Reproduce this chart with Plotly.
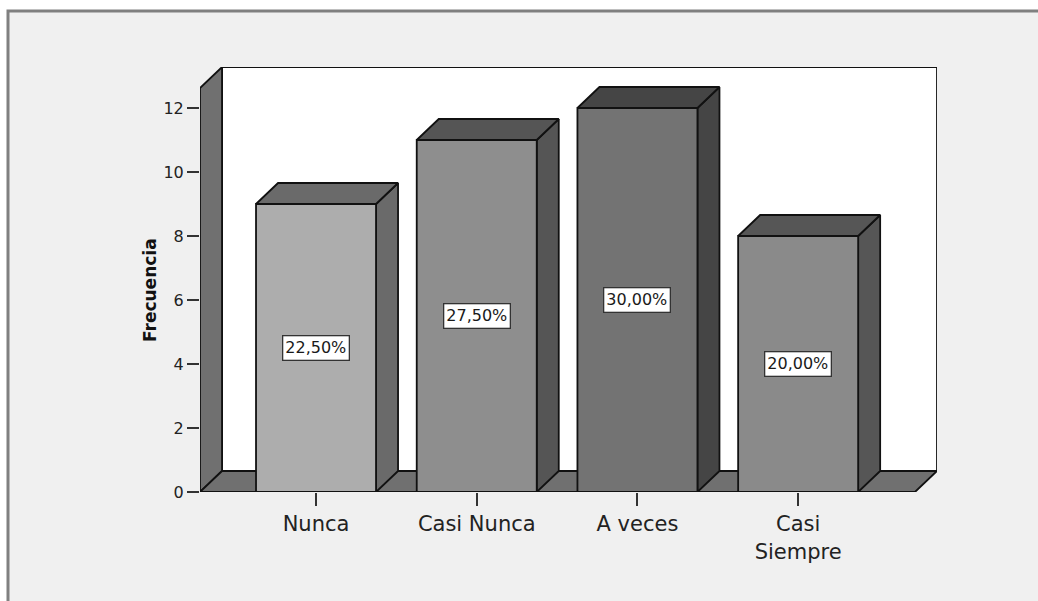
import plotly.graph_objects as go

# Frequency table
categorias = ["Nunca", "Casi Nunca", "A veces", "Casi<br>Siempre"]
frecuencias = [9, 11, 12, 8]
porcentajes = ["22,50%", "27,50%", "30,00%", "20,00%"]

# Face colours per bar: front face and the darker top/side faces
color_frente = ["#adadad", "#8e8e8e", "#737373", "#8a8a8a"]
color_lado = ["#6a6a6a", "#555555", "#454545", "#565656"]

y_ticks = [0, 2, 4, 6, 8, 10, 12]

# Geometry of the pseudo-3D box (axis units)
W, H = 1038, 601
ML, MR, MT, MB = 200, 101, 67, 109
pw, ph = W - ML - MR, H - MT - MB
half = 0.3734          # half bar width
dx, dy = 0.137, 0.656  # depth offset of the back plane
x_lo, x_hi = -0.722, 3.727
wall_top = 12.625
x_range = [x_lo, x_hi + dx]
y_range = [0, wall_top + dy]

EDGE = dict(color="#111111", width=1.8)

fig = go.Figure()


def face(xs, ys, fill):
    fig.add_trace(go.Scatter(
        x=list(xs) + [xs[0]], y=list(ys) + [ys[0]],
        mode="lines", fill="toself", fillcolor=fill,
        line=EDGE, hoverinfo="skip", showlegend=False,
    ))


# Back wall
face([x_lo + dx, x_hi + dx, x_hi + dx, x_lo + dx],
     [dy, dy, wall_top + dy, wall_top + dy], "#ffffff")
# Left wall
face([x_lo, x_lo + dx, x_lo + dx, x_lo],
     [0, dy, wall_top + dy, wall_top], "#707070")
# Floor
face([x_lo, x_hi, x_hi + dx, x_lo + dx],
     [0, 0, dy, dy], "#707070")

# Bars: side face, top face, front face
for i, v in enumerate(frecuencias):
    x0, x1 = i - half, i + half
    face([x1, x1 + dx, x1 + dx, x1], [0, dy, v + dy, v], color_lado[i])
    face([x0, x1, x1 + dx, x0 + dx], [v, v, v + dy, v + dy], color_lado[i])
    face([x0, x1, x1, x0], [0, 0, v, v], color_frente[i])

# Percentage labels in the middle of each bar
for i, (v, p) in enumerate(zip(frecuencias, porcentajes)):
    fig.add_annotation(
        x=i, y=v / 2, text=p, showarrow=False,
        font=dict(family="DejaVu Sans", size=16, color="#1a1a1a"),
        bgcolor="#ffffff", bordercolor="#333333", borderwidth=1.3, borderpad=2,
    )

# Y-axis title
fig.add_annotation(
    xref="paper", yref="paper",
    x=(138 - ML) / pw, y=(H - MB - 290) / ph,
    text="<b>Frecuencia</b>", textangle=-90, showarrow=False,
    font=dict(family="DejaVu Sans", size=17, color="#111111"),
)

# Outer chart frame
fig.add_shape(
    type="rect", xref="paper", yref="paper", layer="below",
    x0=(8 - ML) / pw, x1=(W + 20 - ML) / pw,
    y0=(H - MB - (H + 20)) / ph, y1=(H - MB - 11) / ph,
    fillcolor="#f0f0f0", line=dict(color="#808080", width=3),
)

fig.update_layout(
    width=W, height=H,
    margin=dict(l=ML, r=MR, t=MT, b=MB, pad=0),
    paper_bgcolor="#ffffff", plot_bgcolor="rgba(0,0,0,0)",
    xaxis=dict(
        range=x_range, showgrid=False, zeroline=False, showline=False,
        tickmode="array", tickvals=list(range(len(categorias))),
        ticktext=categorias, ticks="outside", ticklen=13, tickwidth=1.5,
        tickcolor="#333333",
        tickfont=dict(family="DejaVu Sans", size=21, color="#222222"),
    ),
    yaxis=dict(
        range=y_range, showgrid=False, zeroline=False, showline=False,
        tickmode="array", tickvals=y_ticks, ticks="outside", ticklen=12,
        tickwidth=1.5, tickcolor="#333333",
        tickfont=dict(family="DejaVu Sans", size=16, color="#222222"),
    ),
    font=dict(family="DejaVu Sans"),
)

fig.write_html("out.html")
